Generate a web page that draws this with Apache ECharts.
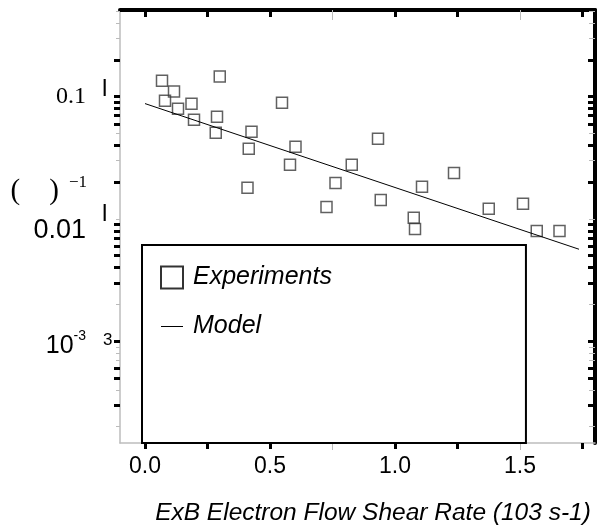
<!DOCTYPE html>
<html><head><meta charset="utf-8">
<script src="https://cdn.jsdelivr.net/npm/echarts@6/dist/echarts.min.js"></script>
<style>html,body{margin:0;padding:0;background:#fff}#c{width:603px;height:529px}</style>
</head><body><div id="c"></div>
<script>
// ---- data ----
const expX = [0.068, 0.116, 0.080, 0.132, 0.186, 0.196, 0.299, 0.288, 0.283, 0.426, 0.415, 0.410, 0.548, 0.602, 0.580, 0.762, 0.726, 0.827, 0.932, 0.943, 1.108, 1.075, 1.080, 1.236, 1.375, 1.512, 1.567, 1.658];
const expY = [0.135, 0.110, 0.0928, 0.0797, 0.0877, 0.0648, 0.146, 0.0686, 0.0507, 0.0516, 0.0375, 0.0180, 0.0893, 0.0389, 0.0277, 0.0197, 0.0125, 0.0277, 0.0453, 0.0143, 0.0183, 0.0102, 0.00828, 0.0238, 0.0121, 0.0133, 0.00798, 0.00798];
const modelX = [0, 1.736];
const modelY = [0.0878, 0.00565];
const seriesNames = ['Experiments', 'Model'];
const xTitle = 'ExB Electron Flow Shear Rate (103 s-1)';
const xLabelValues = [0, 0.5, 1.0, 1.5];
const xBlackTicks = [0, 0.25, 0.5, 1.0, 1.25, 1.75];
const xGrayTicks = [0.75, 1.5];
const yLabelValues = [0.1, 0.01, 0.001];
const yBlackTicks = [0.2, 0.1, 0.09, 0.08, 0.07, 0.06, 0.04, 0.02, 0.009, 0.008, 0.007, 0.006, 0.005, 0.004, 0.003, 0.001, 0.0006, 0.0005, 0.0003];
const yGrayTicks = [0.5, 0.4, 0.3, 0.05, 0.03, 0.01, 0.002, 0.0009, 0.0008, 0.0007, 0.0004, 0.0002];
const xRange = [-0.1, 1.8];
const yRange = [1.469e-4, 0.5117];

const SANS = 'Liberation Sans, Arial, sans-serif';
const SERIF = 'Liberation Serif, Times New Roman, serif';

function xAx(opts) {
  return Object.assign({
    type: 'value', min: xRange[0], max: xRange[1], splitLine: {show: false},
    axisLabel: {show: false}
  }, opts);
}
function yAx(opts) {
  return Object.assign({
    type: 'log', logBase: 10, min: yRange[0], max: yRange[1], splitLine: {show: false},
    minorTick: {show: false}, axisLabel: {show: false}
  }, opts);
}

const chart = echarts.init(document.getElementById('c'), null, {renderer: 'canvas'});
chart.setOption({
  animation: false,
  backgroundColor: '#fff',
  grid: {left: 120, right: 8, top: 10, bottom: 86, containLabel: false, outerBoundsMode: 'none'},
  xAxis: [
    xAx({position: 'bottom',
      axisLine: {show: true, onZero: false, lineStyle: {color: '#bdbdbd', width: 1.5}},
      axisTick: {show: true, inside: false, length: 6, customValues: xBlackTicks, lineStyle: {color: '#000', width: 3}},
      axisLabel: {show: true, customValues: xLabelValues, formatter: v => v.toFixed(1), fontSize: 23, fontFamily: SANS, color: '#000', margin: 12},
      name: xTitle, nameLocation: 'middle', nameGap: 58,
      nameTextStyle: {fontSize: 24.5, fontStyle: 'italic', fontFamily: SANS, color: '#000', padding: [0, 0, 0, 31]}
    }),
    xAx({position: 'top',
      axisLine: {show: true, onZero: false, lineStyle: {color: '#000', width: 4}},
      axisTick: {show: true, inside: true, length: 7, customValues: xBlackTicks, lineStyle: {color: '#000', width: 3}}
    }),
    xAx({position: 'bottom',
      axisLine: {show: false, onZero: false},
      axisTick: {show: true, inside: false, length: 7, customValues: xGrayTicks, lineStyle: {color: '#bbb', width: 1}}
    }),
    xAx({position: 'top',
      axisLine: {show: false, onZero: false},
      axisTick: {show: true, inside: true, length: 10, customValues: xGrayTicks, lineStyle: {color: '#bbb', width: 1}}
    })
  ],
  yAxis: [
    yAx({position: 'left',
      axisLine: {show: true, onZero: false, lineStyle: {color: '#bdbdbd', width: 1.5}},
      axisTick: {show: true, inside: false, length: 6, customValues: yBlackTicks, lineStyle: {color: '#000', width: 3}},
      axisLabel: {show: true, customValues: yLabelValues, margin: 34, color: '#000',
        formatter: function (v) {
          if (Math.abs(v - 0.1) < 1e-9) return '{a|0.1}';
          if (Math.abs(v - 0.01) < 1e-9) return '{b|0.01}';
          return '{c|10}{d|-3}';
        },
        rich: {
          a: {fontFamily: SERIF, fontSize: 24, color: '#000'},
          b: {fontFamily: SANS, fontSize: 27, color: '#000', padding: [24, 0, 0, 0]},
          c: {fontFamily: SANS, fontSize: 25, color: '#000', padding: [10, 0, 0, 0]},
          d: {fontFamily: SANS, fontSize: 14, color: '#000', padding: [0, 0, 10, 0]}
        }
      },
      name: '{p|(    )}{s|−1}', nameLocation: 'middle', nameRotate: 0, nameGap: 33, nameMoveOverlap: false,
      nameTextStyle: {padding: [0, 0, 70, 0], align: 'right',
        rich: {
          p: {fontFamily: SERIF, fontSize: 29, color: '#000'},
          s: {fontFamily: SERIF, fontSize: 17, color: '#000', padding: [0, 0, 18, 10]}
        }
      }
    }),
    yAx({position: 'left',
      axisLine: {show: false, onZero: false},
      axisTick: {show: true, inside: false, length: 4, customValues: yGrayTicks, lineStyle: {color: '#bbb', width: 1}}
    }),
    yAx({position: 'right',
      axisLine: {show: true, onZero: false, lineStyle: {color: '#000', width: 4}},
      axisTick: {show: true, inside: true, length: 7, customValues: yBlackTicks, lineStyle: {color: '#000', width: 3}}
    }),
    yAx({position: 'right',
      axisLine: {show: false, onZero: false},
      axisTick: {show: true, inside: true, length: 6, customValues: yGrayTicks, lineStyle: {color: '#bbb', width: 1}}
    })
  ],
  legend: {
    orient: 'vertical', left: 142, top: 245,
    padding: [20, 194, 104, 18],
    borderColor: '#000', borderWidth: 2, backgroundColor: '#fff', borderRadius: 0,
    itemGap: 24, itemWidth: 22, itemHeight: 22,
    textStyle: {fontSize: 25, fontStyle: 'italic', fontFamily: SANS, color: '#000', padding: [0, 0, 0, 5]},
    data: [
      {name: seriesNames[0], icon: 'rect', itemStyle: {color: '#fff', borderColor: '#000', borderWidth: 2}},
      {name: seriesNames[1], itemStyle: {color: 'rgba(0,0,0,0)', borderWidth: 0, opacity: 0}, lineStyle: {color: '#000', width: 1}}
    ]
  },
  graphic: [
    {type: 'text', left: 102, top: 77, style: {text: 'l', font: '24px Liberation Sans', fill: '#000'}},
    {type: 'text', left: 102, top: 202, style: {text: 'l', font: '24px Liberation Sans', fill: '#000'}},
    {type: 'text', left: 103, top: 332, style: {text: '3', font: '17px Liberation Sans', fill: '#000'}}
  ],
  series: [
    {name: seriesNames[0], type: 'scatter', xAxisIndex: 0, yAxisIndex: 0,
      symbol: 'rect', symbolSize: 11,
      itemStyle: {color: 'rgba(255,255,255,0)', borderColor: '#3a3a3a', borderWidth: 1.5},
      data: expX.map((x, i) => [x, expY[i]])},
    {name: seriesNames[1], type: 'line', xAxisIndex: 0, yAxisIndex: 0,
      symbol: 'none', showSymbol: false,
      lineStyle: {color: '#000', width: 1},
      itemStyle: {color: '#000'},
      data: modelX.map((x, i) => [x, modelY[i]])}
  ]
});
</script>
</body></html>
